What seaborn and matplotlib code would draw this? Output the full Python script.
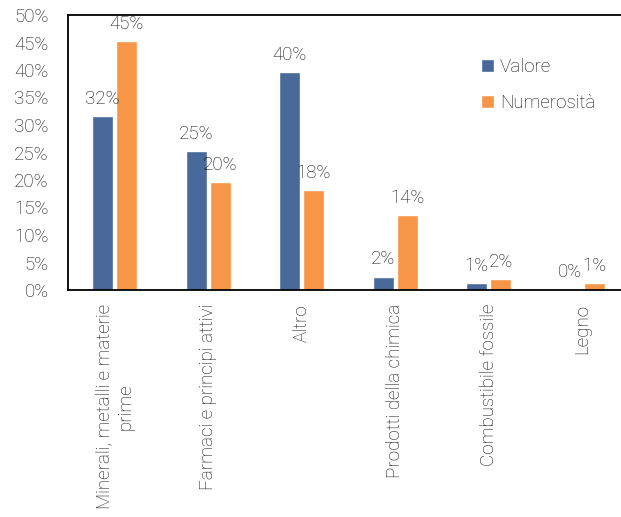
import pandas as pd
import seaborn as sns
import matplotlib.pyplot as plt

categorie = ["Minerali, metalli e materie\nprime", "Farmaci e principi attivi", "Altro",
             "Prodotti della chimica", "Combustibile fossile", "Legno"]
valore = [31.6, 25.2, 39.6, 2.4, 1.3, 0.1]
numerosita = [45.3, 19.6, 18.2, 13.6, 2.0, 1.3]
serie = ["Valore", "Numerosità"]
colori = ["#48699a", "#f79646"]

df = pd.DataFrame({
    "categoria": categorie * 2,
    "quota": valore + numerosita,
    "serie": [serie[0]] * len(categorie) + [serie[1]] * len(categorie),
})

sns.set_theme(style="white")
plt.rcParams['font.family'] = ['Roboto', 'DejaVu Sans']
plt.rcParams['font.weight'] = 'light'
testo = "#111111"
fs = 13.5

fig = plt.figure(figsize=(6.21, 5.17), dpi=100)
ax = fig.add_axes([68 / 621, 1 - 290 / 517, 561 / 621, 275 / 517])

sns.barplot(data=df, x="categoria", y="quota", hue="serie", palette=colori,
            width=0.52, gap=0.13, ax=ax, saturation=1)

for cont in ax.containers:
    labels = [f"{round(b.get_height())}%" for b in cont]
    ax.bar_label(cont, labels=labels, padding=6, fontsize=fs, color=testo,
                 fontweight='light')

ax.set_ylim(0, 50)
ax.set_yticks(range(0, 55, 5))
ax.set_yticklabels([f"{v}%" for v in range(0, 55, 5)])
ax.set_xlabel("")
ax.set_ylabel("")
ax.tick_params(axis='y', labelsize=fs, labelcolor=testo, length=0, pad=14)
ax.tick_params(axis='x', labelsize=fs, labelcolor=testo, length=0, pad=10)
for lab in ax.get_xticklabels():
    lab.set_rotation(90)
    lab.set_ha('center')
    lab.set_va('top')
    lab.set_multialignment('center')

for s in ax.spines.values():
    s.set_color("black")
    s.set_linewidth(1.3)

ax.legend(loc="upper left", bbox_to_anchor=(464 / 621, 1 - 41 / 517),
          bbox_transform=fig.transFigure, frameon=False,
          fontsize=fs, handlelength=0.7, handleheight=0.7, labelspacing=0.95,
          handletextpad=0.3, labelcolor=testo)

fig.savefig("out.png", dpi=100)
